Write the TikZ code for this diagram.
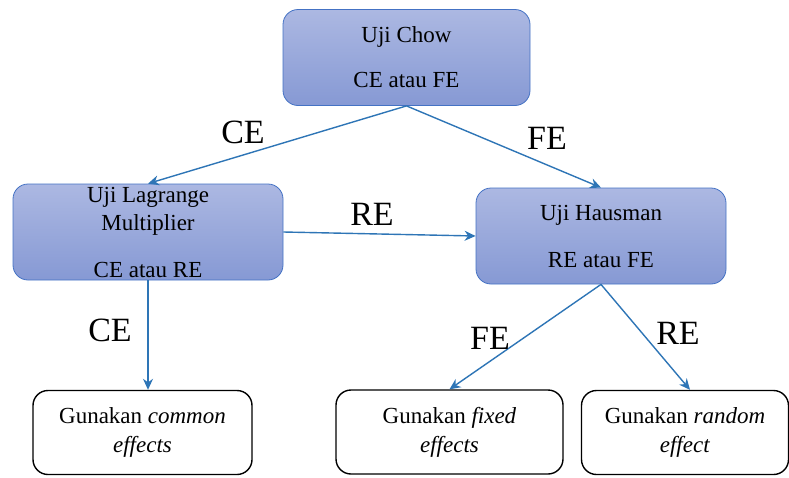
\documentclass[tikz,border=0pt]{standalone}
\usepackage{fontspec}
\setmainfont{Liberation Serif}
\usepackage{tikz}
\usetikzlibrary{arrows.meta,positioning}
\definecolor{ujiedge} {RGB}{ 68,114,196}
\definecolor{ujitop}  {RGB}{172,184,226}
\definecolor{ujibot}  {RGB}{134,153,212}
\definecolor{arrblue} {RGB}{ 46,117,182}
\tikzset{
  uji/.style={draw=ujiedge,line width=0.8pt,rounded corners=15pt,
              top color=ujitop,bottom color=ujibot,
              minimum height=96pt,align=center,inner sep=2pt,
              font=\fontsize{23}{28}\selectfont},
  hasil/.style={draw=black,line width=1.4pt,fill=white,rounded corners=15pt,
                minimum height=84pt,align=center,
                font=\fontsize{23}{29}\selectfont},
  arr/.style={-{Stealth[length=11pt,width=10pt]},line width=1.4pt,color=arrblue},
  lbl/.style={font=\fontsize{34}{40}\selectfont,inner sep=0pt},
}
\begin{document}
\begin{tikzpicture}[x=1pt,y=-1pt]
  \useasboundingbox (0,0) rectangle (789,477);

  % test boxes
  \node[uji,minimum width=247pt] (chow)     at (406.5,57.5) {Uji Chow\\[17pt]CE atau FE};
  \node[uji,minimum width=270pt] (lagrange) at (148,232)  {Uji Lagrange\\Multiplier\\[19pt]CE atau RE};
  \node[uji,minimum width=250pt] (hausman)  at (601,236)  {Uji Hausman\\[19pt]RE atau FE};

  % result boxes
  \node[hasil,minimum width=219pt] (common) at (142.5,432.5) {Gunakan \textit{common}\\\textit{effects}};
  \node[hasil,minimum width=227pt] (fixed)  at (449.5,432)   {Gunakan \textit{fixed}\\\textit{effects}};
  \node[hasil,minimum width=207pt] (random) at (685,432.5)   {Gunakan \textit{random}\\\textit{effect}};

  % Chow
  \draw[arr] (chow.south) -- (lagrange.north);
  \draw[arr] (chow.south) -- (hausman.north);
  \node[lbl] (lblce) at (243,132) {CE};
  \node[lbl] (lblfe) at (547,138) {FE};

  % Lagrange
  \draw[arr] (lagrange.east) -- (hausman.west);
  \draw[arr] (lagrange.south) -- (lagrange.south |- common.north);
  \node[lbl] (lblre) at (372,214) {RE};
  \node[lbl] (lblce2) at (110,330) {CE};

  % Hausman
  \draw[arr] (hausman.south) -- (fixed.north);
  \draw[arr] (hausman.south) -- ([xshift=5pt]random.north);
  \node[lbl] (lblfe2) at (490,338) {FE};
  \node[lbl] (lblre2) at (678,333) {RE};
\end{tikzpicture}
\end{document}
